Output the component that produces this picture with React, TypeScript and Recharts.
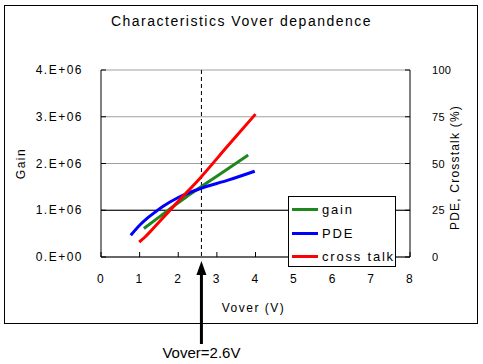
import {
  ComposedChart,
  Line,
  XAxis,
  YAxis,
  CartesianGrid,
  ReferenceLine,
  Legend,
} from "recharts";

/* Values */
const gainVover = [1.11, 1.45, 1.83, 2.2, 2.57, 3.2, 3.81];
const gainValues = [0.61e6, 0.82e6, 1.06e6, 1.28e6, 1.49e6, 1.84e6, 2.18e6];

const pdeVover = [0.77, 1.0, 1.2, 1.4, 1.6, 2.0, 2.57, 3.29, 3.98];
const pdeValues = [11.6, 17.0, 20.8, 24.0, 27.0, 31.8, 36.6, 41.1, 45.9];

const crosstalkVover = [0.99, 1.14, 1.57, 2.0, 2.57, 3.29, 4.0];
const crosstalkValues = [8.0, 10.7, 20.2, 29.8, 42.3, 59.6, 76.4];

const xTicks = [0, 1, 2, 3, 4, 5, 6, 7, 8];
const gainTicks = [0, 1e6, 2e6, 3e6, 4e6];
const percentTicks = [0, 25, 50, 75, 100];
const markerVover = 2.6;
const legendOrder = ["gain", "PDE", "cross talk"];

const gainData = gainVover.map((v, i) => ({ v, gain: gainValues[i] }));
const pdeData = pdeVover.map((v, i) => ({ v, pde: pdeValues[i] }));
const crosstalkData = crosstalkVover.map((v, i) => ({ v, ct: crosstalkValues[i] }));

const FONT = "'Liberation Sans', Arial, sans-serif";
const tickText = { fontFamily: FONT, fontSize: 12, letterSpacing: 1.5, fill: "#000" };

function gainLabel(v: number) {
  return `${(v / 1e6).toFixed(0)}.E+0${v === 0 ? 0 : 6}`;
}

function LeftTick({ x, y, payload }: any) {
  return (
    <g>
      <line x1={x} x2={x + 5} y1={y} y2={y} stroke="#000" />
      <text x={x - 18} y={y + 4} textAnchor="end" {...tickText}>
        {gainLabel(payload.value)}
      </text>
    </g>
  );
}

function RightTick({ x, y, payload }: any) {
  return (
    <g>
      <line x1={x - 5} x2={x} y1={y} y2={y} stroke="#000" />
      <text x={x + 22} y={y + 4} textAnchor="start" {...tickText} fontSize={11} letterSpacing={0.3}>
        {payload.value}
      </text>
    </g>
  );
}

function BottomTick({ x, y, payload }: any) {
  return (
    <g>
      <line x1={x} x2={x} y1={y} y2={y - 5} stroke="#000" />
      <text x={x} y={y + 26} textAnchor="middle" {...tickText}>
        {payload.value}
      </text>
    </g>
  );
}

/* dashed marker line, plus the arrow and note under the plot */
function MarkerShape(props: any) {
  const { x1, y1, y2 } = props;
  const x = x1;
  const top = Math.min(y1, y2);
  const bottom = Math.max(y1, y2);
  const tip = bottom + 4;
  return (
    <g>
      <line x1={x} x2={x} y1={top} y2={bottom} stroke="#000" strokeDasharray="4 3" />
      <polygon points={`${x},${tip} ${x - 5},${tip + 14} ${x + 5},${tip + 14}`} fill="#000" />
      <line x1={x} x2={x} y1={tip + 12} y2={bottom + 87} stroke="#000" strokeWidth={3} />
      <text x={x} y={bottom + 101} textAnchor="middle" fontFamily={FONT} fontSize={15} fill="#000">
        Vover=2.6V
      </text>
    </g>
  );
}

function LegendBox({ payload }: any) {
  const items = [...(payload || [])].sort(
    (a: any, b: any) => legendOrder.indexOf(a.value) - legendOrder.indexOf(b.value)
  );
  return (
    <div
      style={{
        border: "1px solid #000",
        background: "#fff",
        width: 108,
        height: 71,
        boxSizing: "border-box",
        padding: "1px 0 0 3px",
      }}
    >
      {items.map((item: any) => (
        <div
          key={item.value}
          style={{ display: "flex", alignItems: "center", height: 23.5, whiteSpace: "nowrap" }}
        >
          <span style={{ display: "inline-block", width: 26, height: 3, background: item.color }} />
          <span
            style={{
              marginLeft: 4,
              fontFamily: FONT,
              fontSize: 13,
              letterSpacing: 1.8,
              color: "#000",
            }}
          >
            {item.value}
          </span>
        </div>
      ))}
    </div>
  );
}

export default function App() {
  return (
    <div style={{ position: "absolute", left: 0, top: 0, width: 483, height: 364, background: "#fff" }}>
      <div
        style={{
          position: "absolute",
          left: 4,
          top: 5,
          width: 474,
          height: 319,
          border: "1px solid #000",
          boxSizing: "border-box",
        }}
      />
      <div
        style={{
          position: "absolute",
          left: 0,
          width: 483,
          top: 13,
          textAlign: "center",
          fontFamily: FONT,
          fontSize: 14,
          letterSpacing: 1.5,
          color: "#000",
        }}
      >
        Characteristics Vover depandence
      </div>
      <ComposedChart
        width={483}
        height={364}
        margin={{ top: 70, right: 0, bottom: 0, left: 0 }}
        style={{ position: "absolute", left: 0, top: 0 }}
      >
        <CartesianGrid horizontal vertical={false} stroke="#a0a0a0" yAxisId="left" />
        <XAxis
          type="number"
          dataKey="v"
          domain={[0, 8]}
          ticks={xTicks}
          height={107}
          tickSize={0}
          tickMargin={0}
          tick={<BottomTick />}
          axisLine={{ stroke: "#000" }}
          allowDuplicatedCategory={false}
          label={{
            content: ({ viewBox }: any) => (
              <text
                x={viewBox.x + viewBox.width / 2 - 2}
                y={viewBox.y + 55}
                textAnchor="middle"
                {...tickText}
              >
                Vover (V)
              </text>
            ),
          }}
        />
        <YAxis
          yAxisId="left"
          orientation="left"
          domain={[0, 4e6]}
          ticks={gainTicks}
          width={101}
          tickSize={0}
          tickMargin={0}
          tick={<LeftTick />}
          axisLine={{ stroke: "#000" }}
          label={{
            content: ({ viewBox }: any) => (
              <text
                x={21}
                y={viewBox.y + viewBox.height / 2}
                textAnchor="middle"
                transform={`rotate(-90 21 ${viewBox.y + viewBox.height / 2})`}
                {...tickText}
                dy={4}
              >
                Gain
              </text>
            ),
          }}
        />
        <YAxis
          yAxisId="right"
          orientation="right"
          domain={[0, 100]}
          ticks={percentTicks}
          width={73}
          tickSize={0}
          tickMargin={0}
          tick={<RightTick />}
          axisLine={{ stroke: "#000" }}
          label={{
            content: ({ viewBox }: any) => (
              <text
                x={455}
                y={viewBox.y + viewBox.height / 2 + 4}
                textAnchor="middle"
                transform={`rotate(-90 455 ${viewBox.y + viewBox.height / 2 + 4})`}
                {...tickText}
                letterSpacing={1.2}
                dy={4}
              >
                PDE, Crosstalk (%)
              </text>
            ),
          }}
        />
        <ReferenceLine yAxisId="left" y={1e6} stroke="#000" />
        <ReferenceLine yAxisId="left" x={markerVover} shape={<MarkerShape />} />
        <Line
          yAxisId="left"
          data={gainData}
          dataKey="gain"
          name="gain"
          type="monotone"
          stroke="#1e881e"
          strokeWidth={3}
          dot={false}
          isAnimationActive={false}
        />
        <Line
          yAxisId="right"
          data={pdeData}
          dataKey="pde"
          name="PDE"
          type="monotone"
          stroke="#0000ff"
          strokeWidth={3}
          dot={false}
          isAnimationActive={false}
        />
        <Line
          yAxisId="right"
          data={crosstalkData}
          dataKey="ct"
          name="cross talk"
          type="monotone"
          stroke="#ff0000"
          strokeWidth={3}
          dot={false}
          isAnimationActive={false}
        />
        <Legend
          layout="vertical"
          align="center"
          verticalAlign="middle"
          content={<LegendBox />}
          wrapperStyle={{ position: "absolute", left: 288, top: 196, width: "auto", margin: 0 }}
        />
      </ComposedChart>
    </div>
  );
}
